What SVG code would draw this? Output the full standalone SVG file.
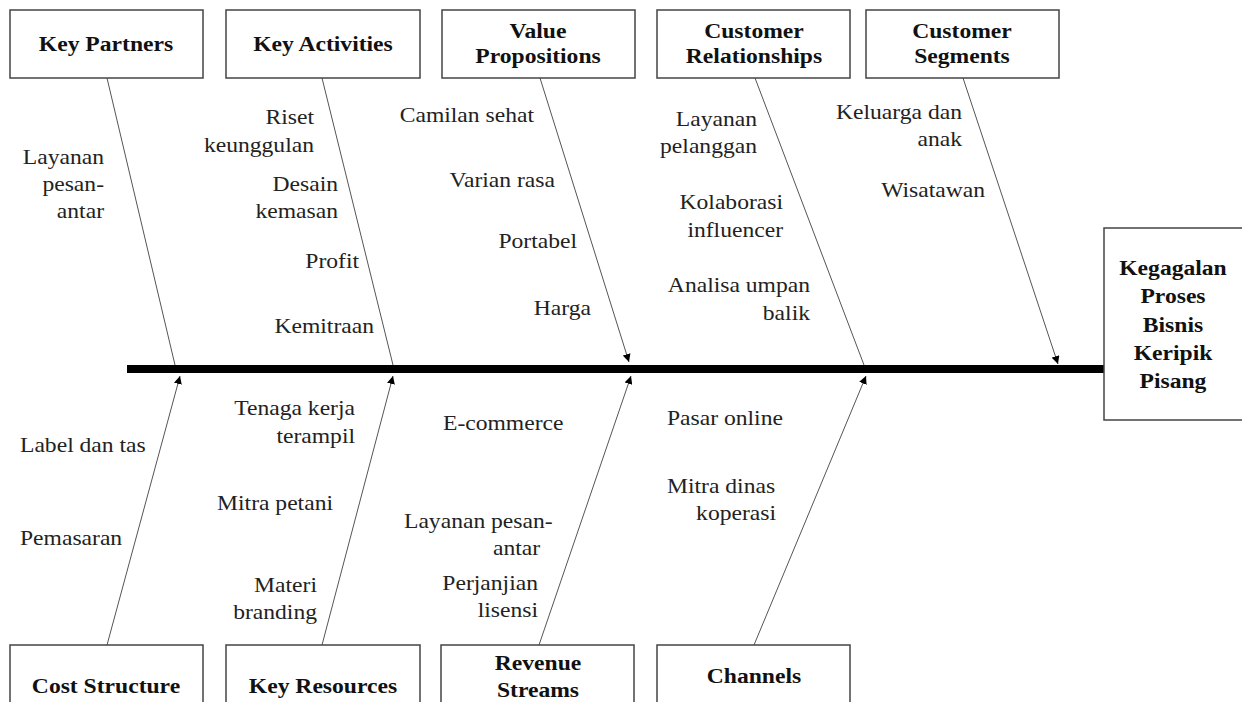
<svg xmlns="http://www.w3.org/2000/svg" width="1242" height="702" viewBox="0 0 1242 702">
<style>
.box{fill:#fff;stroke:#444;stroke-width:1.5}
.h{font-family:"Liberation Serif","Times New Roman",serif;font-weight:bold;font-size:20px;fill:#111;text-anchor:middle}
.t{font-family:"Liberation Serif","Times New Roman",serif;font-size:20px;fill:#222}
.e{text-anchor:end}
.bone{stroke:#555;stroke-width:1;fill:none}
</style>
<defs>
<marker id="arr" viewBox="0 0 10 10" refX="10" refY="5" markerWidth="8" markerHeight="8" markerUnits="userSpaceOnUse" orient="auto">
<path d="M0,0 L10,5 L0,10 z" fill="#000"/>
</marker>
</defs>
<rect width="1242" height="702" fill="#fff"/>
<g id="connectors">
<rect x="127" y="365" width="978" height="8" fill="#000"/>
<line class="bone" x1="107" y1="78" x2="175" y2="365"/>
<line class="bone" x1="322" y1="78" x2="393" y2="365"/>
<line class="bone" x1="540" y1="78" x2="629" y2="362" marker-end="url(#arr)"/>
<line class="bone" x1="755" y1="78" x2="864" y2="365"/>
<line class="bone" x1="963" y1="78" x2="1058" y2="364" marker-end="url(#arr)"/>
<line class="bone" x1="107" y1="645" x2="180" y2="376" marker-end="url(#arr)"/>
<line class="bone" x1="322" y1="645" x2="393" y2="376" marker-end="url(#arr)"/>
<line class="bone" x1="539" y1="645" x2="631" y2="376" marker-end="url(#arr)"/>
<line class="bone" x1="754" y1="645" x2="866" y2="376" marker-end="url(#arr)"/>
</g>
<g id="key-partners">
<rect class="box" x="10" y="10" width="193" height="68"/>
<g transform="scale(1.18 1)">
<text class="h" x="89.83" y="51">Key Partners</text>
<text class="t e" x="88.14" y="164">Layanan</text>
<text class="t e" x="88.14" y="191">pesan-</text>
<text class="t e" x="88.14" y="218">antar</text>
</g>
</g>
<g id="key-activities">
<rect class="box" x="226" y="10" width="194" height="68"/>
<g transform="scale(1.18 1)">
<text class="h" x="273.73" y="51">Key Activities</text>
<text class="t e" x="266.10" y="124">Riset</text>
<text class="t e" x="266.10" y="152">keunggulan</text>
<text class="t e" x="286.44" y="191">Desain</text>
<text class="t e" x="286.44" y="218">kemasan</text>
<text class="t e" x="304.24" y="268">Profit</text>
<text class="t e" x="316.95" y="333">Kemitraan</text>
</g>
</g>
<g id="value-propositions">
<rect class="box" x="442" y="10" width="193" height="68"/>
<g transform="scale(1.18 1)">
<text class="h" x="455.93" y="38">Value</text>
<text class="h" x="455.93" y="63">Propositions</text>
<text class="t e" x="452.54" y="122">Camilan sehat</text>
<text class="t e" x="470.34" y="187">Varian rasa</text>
<text class="t e" x="488.98" y="248">Portabel</text>
<text class="t e" x="500.85" y="315">Harga</text>
</g>
</g>
<g id="customer-relationships">
<rect class="box" x="657" y="10" width="193" height="68"/>
<g transform="scale(1.18 1)">
<text class="h" x="638.98" y="38">Customer</text>
<text class="h" x="638.98" y="63">Relationships</text>
<text class="t e" x="641.53" y="126">Layanan</text>
<text class="t e" x="641.53" y="153">pelanggan</text>
<text class="t e" x="663.56" y="209">Kolaborasi</text>
<text class="t e" x="663.56" y="237">influencer</text>
<text class="t e" x="686.44" y="292">Analisa umpan</text>
<text class="t e" x="686.44" y="320">balik</text>
</g>
</g>
<g id="customer-segments">
<rect class="box" x="866" y="10" width="193" height="68"/>
<g transform="scale(1.18 1)">
<text class="h" x="815.25" y="38">Customer</text>
<text class="h" x="815.25" y="63">Segments</text>
<text class="t e" x="815.25" y="119">Keluarga dan</text>
<text class="t e" x="815.25" y="146">anak</text>
<text class="t e" x="834.75" y="197">Wisatawan</text>
</g>
</g>
<g id="effect">
<rect class="box" x="1104" y="228" width="145" height="192"/>
<g transform="scale(1.18 1)">
<text class="h" x="994.07" y="275">Kegagalan</text>
<text class="h" x="994.07" y="303">Proses</text>
<text class="h" x="994.07" y="332">Bisnis</text>
<text class="h" x="994.07" y="360">Keripik</text>
<text class="h" x="994.07" y="388">Pisang</text>
</g>
</g>
<g id="cost-structure">
<rect class="box" x="10" y="645" width="193" height="68"/>
<g transform="scale(1.18 1)">
<text class="h" x="89.83" y="693">Cost Structure</text>
<text class="t" x="16.95" y="452">Label dan tas</text>
<text class="t" x="16.95" y="545">Pemasaran</text>
</g>
</g>
<g id="key-resources">
<rect class="box" x="226" y="645" width="194" height="68"/>
<g transform="scale(1.18 1)">
<text class="h" x="273.73" y="693">Key Resources</text>
<text class="t e" x="300.85" y="415">Tenaga kerja</text>
<text class="t e" x="300.85" y="443">terampil</text>
<text class="t e" x="282.20" y="510">Mitra petani</text>
<text class="t e" x="268.64" y="592">Materi</text>
<text class="t e" x="268.64" y="619">branding</text>
</g>
</g>
<g id="revenue-streams">
<rect class="box" x="441" y="645" width="193" height="68"/>
<g transform="scale(1.18 1)">
<text class="h" x="455.93" y="670">Revenue</text>
<text class="h" x="455.93" y="697">Streams</text>
<text class="t" x="375.42" y="430">E-commerce</text>
<text class="t" x="342.37" y="528">Layanan pesan-</text>
<text class="t" x="417.80" y="555">antar</text>
<text class="t e" x="455.93" y="590">Perjanjian</text>
<text class="t e" x="455.93" y="617">lisensi</text>
</g>
</g>
<g id="channels">
<rect class="box" x="657" y="645" width="193" height="68"/>
<g transform="scale(1.18 1)">
<text class="h" x="638.98" y="683">Channels</text>
<text class="t" x="565.25" y="425">Pasar online</text>
<text class="t" x="565.25" y="493">Mitra dinas</text>
<text class="t e" x="657.63" y="520">koperasi</text>
</g>
</g>
</svg>
